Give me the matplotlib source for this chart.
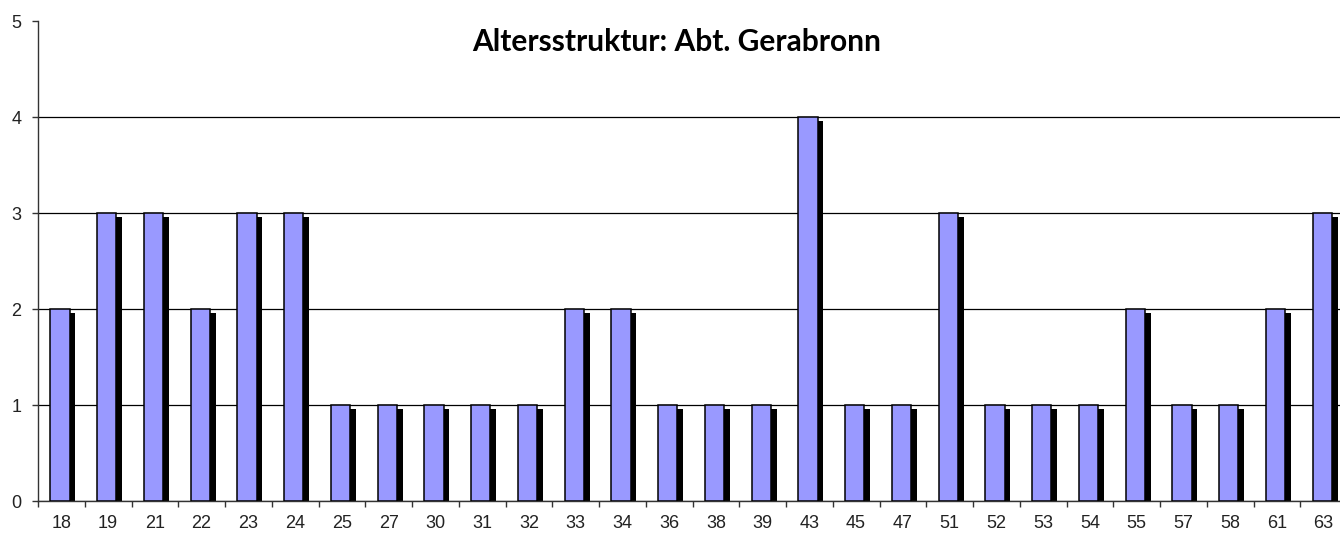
import numpy as np
import matplotlib.pyplot as plt

# Data: ages and counts
ages = ["18", "19", "21", "22", "23", "24", "25", "27", "30", "31", "32", "33", "34", "36",
        "38", "39", "43", "45", "47", "51", "52", "53", "54", "55", "57", "58", "61", "63"]
counts = [2, 3, 3, 2, 3, 3, 1, 1, 1, 1, 1, 2, 2, 1,
          1, 1, 4, 1, 1, 3, 1, 1, 1, 2, 1, 1, 2, 3]
y_ticks = [0, 1, 2, 3, 4, 5]

BAR_COLOR = "#9999FF"
W = 0.41


def main():
    fig = plt.figure(figsize=(13.4, 5.33), dpi=100)
    ax = fig.add_axes([38 / 1340, 32 / 533, 1309 / 1340, 480 / 533])

    x = np.arange(len(ages))
    vals = np.array(counts, dtype=float)

    # Excel-style shadow behind each bar
    ax.bar(x - 0.03 + 0.125, vals - 0.042, width=W, color="black", zorder=2)
    ax.bar(x - 0.03, vals, width=W, color=BAR_COLOR, edgecolor="black",
           linewidth=1.1, zorder=3)

    ax.set_xlim(-0.5, len(ages) - 0.5)
    ax.set_ylim(0, 5)
    ax.set_yticks(y_ticks)
    ax.set_xticks(x)
    ax.set_xticklabels(ages)
    ax.set_xticks(np.arange(len(ages) + 1) - 0.5, minor=True)

    ax.yaxis.grid(True, color="black", linewidth=0.9, zorder=1)
    ax.get_ygridlines()[-1].set_visible(False)
    ax.set_axisbelow(True)

    for s in ["top", "right"]:
        ax.spines[s].set_visible(False)
    for s in ["left", "bottom"]:
        ax.spines[s].set_color("#333333")
        ax.spines[s].set_linewidth(1.0)

    ax.tick_params(axis="x", which="major", length=0, pad=10,
                   labelsize=13, labelcolor="#222222")
    ax.tick_params(axis="x", which="minor", length=4, width=1.0,
                   direction="out", color="#333333")
    ax.tick_params(axis="y", length=4, width=1.0, direction="out",
                   color="#333333", labelsize=13, labelcolor="#222222", pad=8)
    for lab in ax.get_xticklabels() + ax.get_yticklabels():
        lab.set_family("Liberation Sans")

    fig.text(677 / 1340, 1 - 42 / 533, "Altersstruktur: Abt. Gerabronn",
             ha="center", va="center", fontsize=21.5, fontweight="bold",
             family="Lato")

    fig.savefig("out.png", dpi=100)


if __name__ == "__main__":
    main()
